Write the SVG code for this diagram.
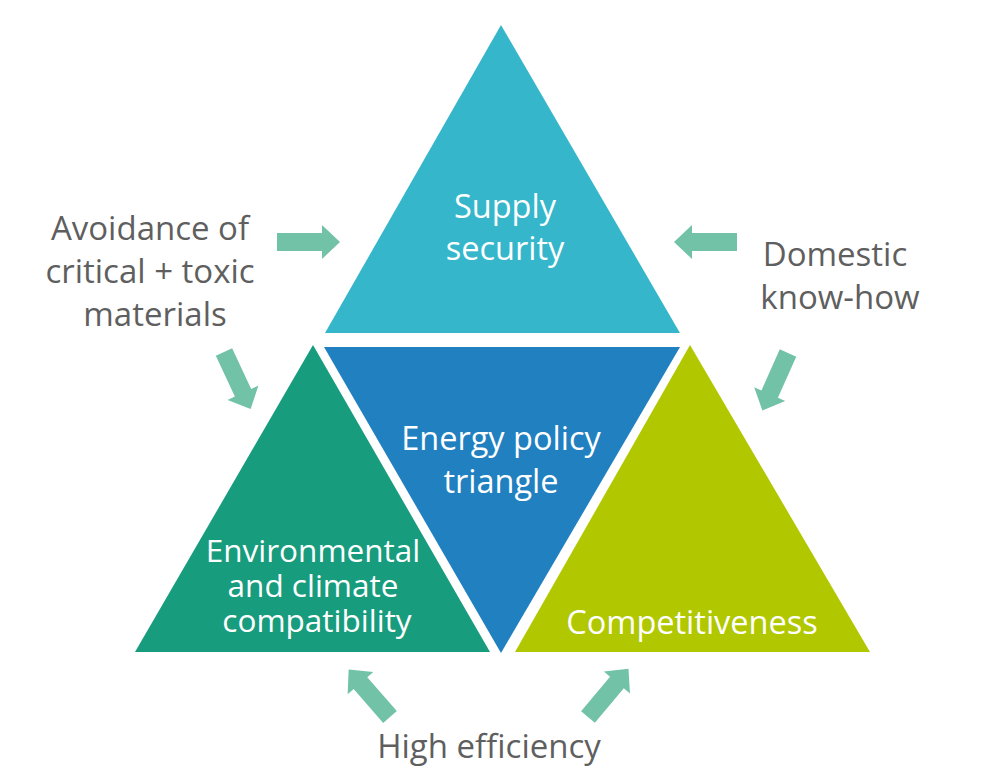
<svg xmlns="http://www.w3.org/2000/svg" width="1000" height="784" viewBox="0 0 1000 784">
<defs>
<style>
.lbl{font-family:"Open Sans","Noto Sans","Liberation Sans",sans-serif;font-size:33px;fill:#5f5f5f;text-anchor:middle}
.in{font-family:"Open Sans","Noto Sans","Liberation Sans",sans-serif;font-size:32.5px;fill:#ffffff;text-anchor:middle}
.in.tight{font-size:31.5px}
.arr{fill:#72c2a8}
</style>
<path id="arrow" d="M0,-9 L45,-9 L45,-17 L63,0 L45,17 L45,9 L0,9 Z"/>
</defs>
<rect width="1000" height="784" fill="#ffffff"/>
<g id="supply-security">
<polygon points="501,25 680,333 325,333" fill="#35b6cb"/>
<text class="in"><tspan x="505" y="218">Supply</tspan><tspan x="505" y="260">security</tspan></text>
</g>
<g id="energy-policy-triangle">
<polygon points="324,347 680,347 501,653" fill="#2080c0"/>
<text class="in"><tspan x="501" y="450">Energy policy</tspan><tspan x="501" y="493">triangle</tspan></text>
</g>
<g id="environmental">
<polygon points="313,345 490,652 135,652" fill="#179c7d"/>
<text class="in tight"><tspan x="313" y="562">Environmental</tspan><tspan x="313" y="597">and climate</tspan><tspan x="317" y="632">compatibility</tspan></text>
</g>
<g id="competitiveness">
<polygon points="690,345 870,652 515,652" fill="#b1c800"/>
<text class="in" x="692" y="634">Competitiveness</text>
</g>
<g id="label-avoidance">
<text class="lbl"><tspan x="150" y="240">Avoidance of</tspan><tspan x="150" y="283">critical + toxic</tspan><tspan x="155" y="326">materials</tspan></text>
</g>
<g id="label-domestic">
<text class="lbl"><tspan x="835" y="266">Domestic</tspan><tspan x="840" y="309">know-how</tspan></text>
</g>
<g id="label-efficiency">
<text class="lbl" x="489" y="758">High efficiency</text>
</g>
<g id="connectors" class="arr">
<use href="#arrow" transform="translate(277,242)"/>
<use href="#arrow" transform="translate(737,242) rotate(180)"/>
<use href="#arrow" transform="translate(224,352) rotate(65)"/>
<use href="#arrow" transform="translate(788,353) rotate(114)"/>
<use href="#arrow" transform="translate(390,717) rotate(-131)"/>
<use href="#arrow" transform="translate(588,717) rotate(-50)"/>
</g>
</svg>
